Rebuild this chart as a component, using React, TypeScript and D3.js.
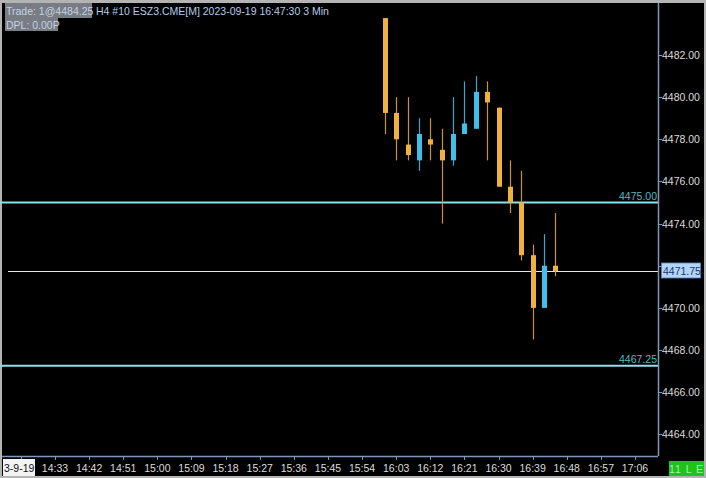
import React from "react";
import * as d3 from "d3";

const times = ["16:00","16:03","16:06","16:09","16:12","16:15","16:18","16:21","16:24","16:27","16:30","16:33","16:36","16:39","16:42","16:45"];
const opens = [4483.75,4479.25,4477.75,4477.0,4478.0,4477.5,4477.0,4478.25,4478.5,4480.25,4479.5,4475.75,4475.0,4472.5,4470.0,4472.0];
const highs = [4483.75,4480.0,4480.0,4479.0,4479.0,4478.5,4480.0,4480.75,4481.0,4480.75,4479.5,4477.0,4476.5,4473.0,4473.5,4474.5];
const lows = [4478.25,4477.0,4477.0,4476.5,4477.0,4474.0,4476.75,4478.25,4478.5,4477.0,4475.75,4474.5,4472.25,4468.5,4470.0,4471.5];
const closes = [4479.25,4478.0,4477.25,4478.25,4477.75,4477.0,4478.25,4478.75,4480.25,4479.75,4475.75,4475.0,4472.5,4470.0,4472.0,4471.75];

const priceTicks = [4464,4466,4468,4470,4472,4474,4476,4478,4480,4482];
const timeTicks = ["14:24","14:33","14:42","14:51","15:00","15:09","15:18","15:27","15:36","15:45","15:54","16:03","16:12","16:21","16:30","16:39","16:48","16:57","17:06"];
const dateLabel = "3-9-19";
const levels = [4475.0, 4467.25];
const lastPrice = 4471.75;

const toMin = (t: string) => { const [h, m] = t.split(":").map(Number); return h * 60 + m; };

export default function App() {
  const W = 706, H = 478;
  const axisX = 658, plotBottom = 456;
  const y = d3.scaleLinear().domain([4464, 4482]).range([434.3, 55]);
  const x = d3.scaleLinear().domain([toMin("14:33"), toMin("17:06")]).range([55, 635]);
  const bw = 5;
  const font = "'Liberation Sans', Arial, sans-serif";
  const up = "#3fc0ea", dn = "#f0b23e";
  const upW = "#35a8d2", dnW = "#c99434";
  const lastY = y(lastPrice);
  return (
    <svg width={W} height={H} style={{ position: "fixed", left: 0, top: 0 }} fontFamily={font}>
      <rect x={0} y={0} width={W} height={H} fill="#b4b4b4" />
      <rect x={2} y={3} width={702} height={473} fill="#000" />
      {levels.map((l, i) => (
        <g key={i}>
          <line x1={0} x2={axisX} y1={y(l)} y2={y(l)} stroke="#8ce2ea" strokeWidth={2} />
          <text x={axisX - 1} y={y(l) - 3} textAnchor="end" fontSize={10.5} fill="#52bac3">{l.toFixed(2)}</text>
        </g>
      ))}
      <line x1={8} x2={axisX} y1={Math.round(lastY) + 0.5} y2={Math.round(lastY) + 0.5} stroke="#e6e6e6" strokeWidth={1} />
      {times.map((t, i) => {
        const cx = Math.round(x(toMin(t))) + 0.5;
        const bull = closes[i] > opens[i];
        const top = y(Math.max(opens[i], closes[i]));
        const bot = y(Math.min(opens[i], closes[i]));
        return (
          <g key={t}>
            <line x1={cx} x2={cx} y1={y(highs[i])} y2={y(lows[i])} stroke={bull ? upW : dnW} strokeWidth={1.2} />
            <rect x={cx - bw / 2} y={top} width={bw} height={Math.max(bot - top, 1.5)} fill={bull ? up : dn} />
          </g>
        );
      })}
      <line x1={axisX + 0.5} x2={axisX + 0.5} y1={3} y2={plotBottom} stroke="#7d98b8" strokeWidth={1.5} />
      <line x1={2} x2={axisX} y1={plotBottom + 0.5} y2={plotBottom + 0.5} stroke="#7d98b8" strokeWidth={1.5} />
      {priceTicks.map((p) => (
        <g key={p}>
          <line x1={axisX} x2={axisX + 4} y1={Math.round(y(p)) + 0.5} y2={Math.round(y(p)) + 0.5} stroke="#7d98b8" />
          {Math.abs(y(p) - lastY) > 12 && (
            <text x={axisX + 4} y={y(p) + 4} fontSize={10.5} fill="#dcdcdc">{p.toFixed(2)}</text>
          )}
        </g>
      ))}
      {timeTicks.map((t, i) => {
        const tx = x(toMin(t));
        return (
          <g key={t}>
            <line x1={Math.round(tx) + 0.5} x2={Math.round(tx) + 0.5} y1={plotBottom} y2={plotBottom + 4} stroke="#7d98b8" />
            {i === 0 ? (
              <g>
                <rect x={3} y={459} width={32} height={17} fill="#f4f4f4" />
                <text x={4} y={472} fontSize={10.5} fill="#101010">{dateLabel}</text>
              </g>
            ) : (
              <text x={tx} y={472} textAnchor="middle" fontSize={10.5} fill="#dcdcdc">{t}</text>
            )}
          </g>
        );
      })}
      <rect x={661.5} y={lastY - 8} width={39} height={15} fill="#b2d6f8" stroke="#5a86c0" strokeWidth={0.8} />
      <text x={663} y={lastY + 4} fontSize={10.5} fill="#1c3570">{lastPrice.toFixed(2)}</text>
      <rect x={5} y={3} width={87} height={15} fill="#787c84" />
      <text x={6} y={15} fontSize={10.5} fill="#c6d2e0">Trade: 1@4484.25</text>
      <text x={96} y={15} fontSize={10.5} fill="#b4cce6">H4 #10 ESZ3.CME[M] 2023-09-19 16:47:30 3 Min</text>
      <rect x={5} y={18} width={53} height={13} fill="#787c84" />
      <text x={6} y={29} fontSize={10.5} fill="#c6d2e0">DPL: 0.00P</text>
      <rect x={669} y={461} width={35} height={15} fill="#1fc21f" />
      <text x={686.5} y={472.5} textAnchor="middle" fontSize={10.5} fill="#a8f0a8" letterSpacing={1}>11 L E</text>
    </svg>
  );
}
